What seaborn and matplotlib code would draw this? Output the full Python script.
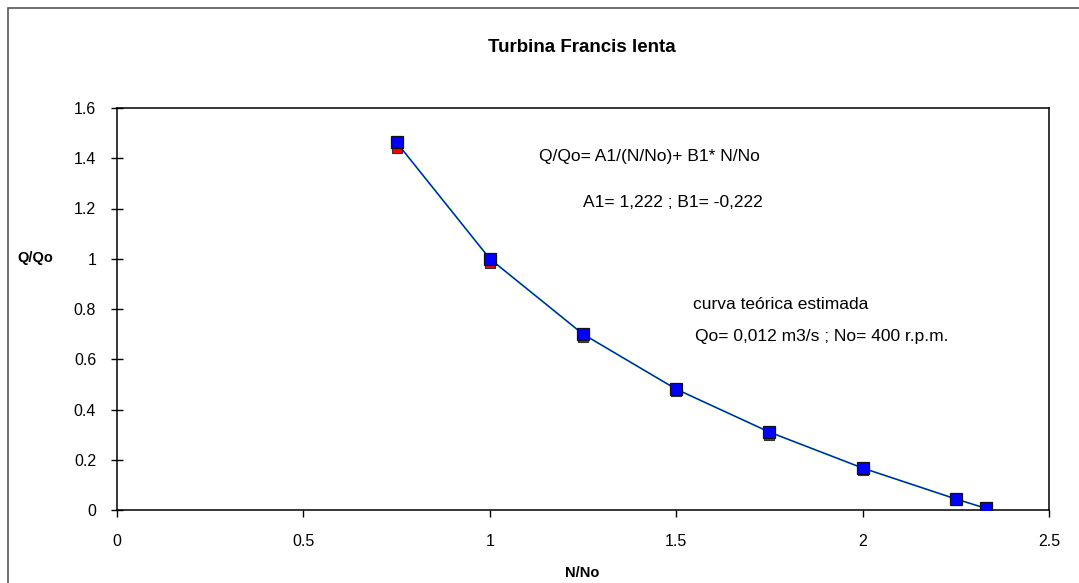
import numpy as np
import pandas as pd
import seaborn as sns
import matplotlib
matplotlib.use('Agg')
import matplotlib.pyplot as plt
from matplotlib.patches import Rectangle
from matplotlib.ticker import FuncFormatter


# data
n_no = [0.75, 1.0, 1.25, 1.5, 1.75, 2.0, 2.25, 2.33]
q_measured = [1.44, 0.985, 0.69, 0.473, 0.30, 0.16, 0.04, 0.005]
q_estimated = [1.463, 1.0, 0.70, 0.481, 0.31, 0.167, 0.044, 0.007]

x_ticks = [0, 0.5, 1, 1.5, 2, 2.5]
y_ticks = [0, 0.2, 0.4, 0.6, 0.8, 1, 1.2, 1.4, 1.6]

df = pd.DataFrame({'N/No': n_no, 'medido': q_measured, 'estimado': q_estimated})

sns.set_theme(style='white')
plt.rcParams['font.family'] = ['Liberation Sans', 'DejaVu Sans']
plt.rcParams['text.color'] = 'black'

fig = plt.figure(figsize=(10.79, 5.83), dpi=100)
ax = fig.add_axes([117 / 1079, 1 - 510 / 583, 932 / 1079, 402 / 583])

# outer chart frame (runs off right/bottom like the original)
fig.patches.append(Rectangle((8 / 1079, -0.05), 1.2, 1 - 8 / 583 + 0.05,
                             transform=fig.transFigure, fill=False,
                             edgecolor='#555555', linewidth=1.2))

# measured points (red, mostly hidden)
sns.scatterplot(data=df, x='N/No', y='medido', marker='s', s=62, color='#ff0000',
                edgecolor='#333333', linewidth=0.8, ax=ax, zorder=3)
# smooth curve underneath
sns.lineplot(data=df, x='N/No', y='estimado', color='#22cc22', linewidth=1.3, ax=ax, zorder=2)
# estimated curve with markers
sns.lineplot(data=df, x='N/No', y='estimado', color='#0000ff', linewidth=0.8, marker='s',
             markersize=8, markerfacecolor='#0000ff', markeredgecolor='#111111',
             markeredgewidth=0.9, ax=ax, zorder=4)

ax.set_xlim(0, 2.5)
ax.set_ylim(0, 1.6)
ax.set_xticks(x_ticks)
ax.set_yticks(y_ticks)
fmt = FuncFormatter(lambda v, p: '%g' % v)
ax.xaxis.set_major_formatter(fmt)
ax.yaxis.set_major_formatter(fmt)
ax.tick_params(axis='x', direction='out', length=5, width=1, pad=12, labelsize=11.5,
               colors='black', bottom=True)
ax.tick_params(axis='y', direction='inout', length=8, width=1, pad=11, labelsize=11.5,
               colors='black', left=True)

for side in ['top', 'right', 'left', 'bottom']:
    ax.spines[side].set_visible(True)
    ax.spines[side].set_color('black')
    ax.spines[side].set_linewidth(1.1)

ax.set_xlabel('')
ax.set_ylabel('')
fig.text(582 / 1079, 1 - 573 / 583, 'N/No', ha='center', va='center', fontsize=10.5,
         fontweight='bold')
fig.text(35 / 1079, 1 - 258 / 583, 'Q/Qo', ha='center', va='center', fontsize=10.5,
         fontweight='bold')
fig.text(582 / 1079, 1 - 48 / 583, 'Turbina Francis lenta', ha='center', va='center',
         fontsize=13.5, fontweight='bold')

ax.text(1.132, 1.405, 'Q/Qo= A1/(N/No)+ B1* N/No', ha='left', va='center', fontsize=12.5)
ax.text(1.25, 1.222, 'A1= 1,222 ; B1= -0,222', ha='left', va='center', fontsize=12.5)
ax.text(1.545, 0.816, 'curva teórica estimada', ha='left', va='center', fontsize=12.5)
ax.text(1.55, 0.689, 'Qo= 0,012 m3/s ; No= 400 r.p.m.', ha='left', va='center', fontsize=12.5)

if ax.get_legend() is not None:
    ax.get_legend().remove()

fig.savefig('out.png', dpi=100)
